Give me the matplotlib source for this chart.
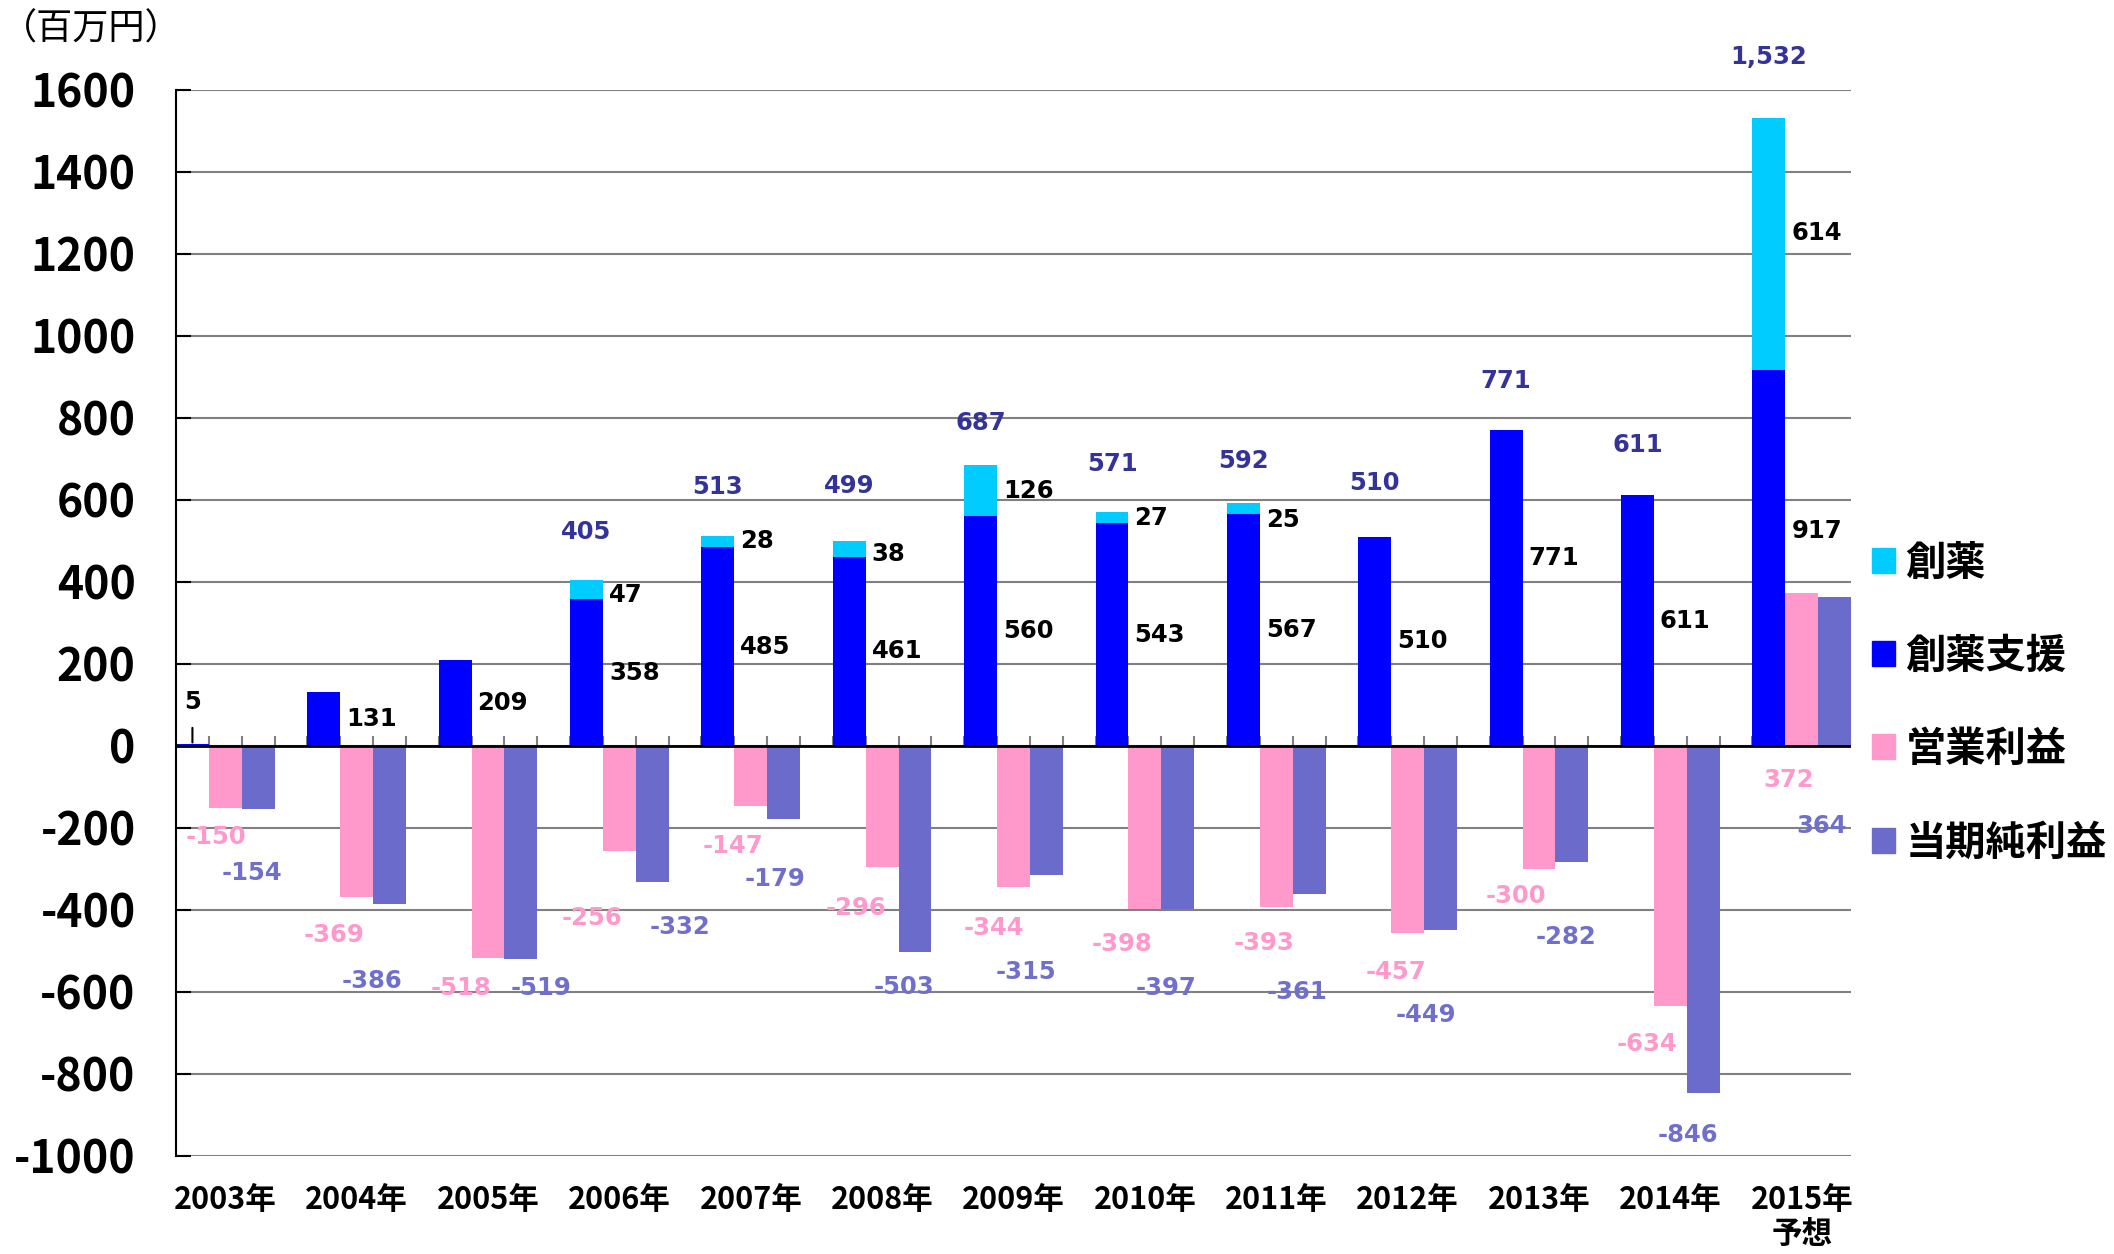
"""
makes the bar chart of sales (創薬 / 創薬支援) and profit per year
and saves it as out.png
"""
import numpy as np
import matplotlib.pyplot as plt
from matplotlib.patches import Patch

# data, in millions of yen
years = ['2003年', '2004年', '2005年', '2006年', '2007年', '2008年', '2009年',
         '2010年', '2011年', '2012年', '2013年', '2014年', '2015年\n予想']
drug_support = [5, 131, 209, 358, 485, 461, 560, 543, 567, 510, 771, 611, 917]
drug_discovery = [0, 0, 0, 47, 28, 38, 126, 27, 25, 0, 0, 0, 614]
# totals as printed above the bars (rounded separately in the source)
totals = [5, 131, 209, 405, 513, 499, 687, 571, 592, 510, 771, 611, 1532]
operating_profit = [-150, -369, -518, -256, -147, -296, -344, -398, -393, -457, -300, -634, 372]
net_profit = [-154, -386, -519, -332, -179, -503, -315, -397, -361, -449, -282, -846, 364]
show_total = [False, False, False, True, True, True, True, True, True, True, True, True, True]

# label placement (pixels), the labels in the original were moved by hand
total_dy = [0, 0, 0, 48, 49, 55, 42, 48, 42, 54, 49, 50, 61]
support_dy = [0, 0, 0, 0, 0, 0, 0, 0, 0, 0, 30, 0, 27]
discovery_dy = [0, 0, 0, -5, 0, -5, 0, 0, -12, 0, 0, 0, 11]
pink_dx = [-9, -23, -27, -27, -18, -26, -20, -23, -12, -12, -23, -23, -13]
pink_dy = [29, 38, 30, 67, 40, 41, 41, 35, 36, 39, 27, 38, 34]
purple_dx = [-6, -17, 20, 28, -9, -11, -20, -12, -12, -15, -6, -15, -13]
purple_dy = [64, 77, 29, 45, 60, 35, 97, 79, 98, 85, 75, 42, 80]

BLUE = '#0000FF'
CYAN = '#00CCFF'
PINK = '#FF99CC'
PURPLE = '#6B6BCC'
TOTAL_COLOR = '#333399'
CJK = ['Noto Sans CJK JP', 'DejaVu Sans']
NUM_FONT = 'DejaVu Sans'

plt.rcParams['axes.unicode_minus'] = False


def plot_maker():
    """
    draws the bars, the labels and the legend and saves the figure
    :return: None
    """
    fig = plt.figure(figsize=(21.14, 12.54), dpi=100)
    ax = fig.add_axes([176 / 2114, 98 / 1254, 1675 / 2114, 1066 / 1254])

    # every year takes 4 slots: blue, pink, purple, empty
    n = len(years)
    base = np.arange(n) * 4
    blue_x = base
    pink_x = base + 1
    purple_x = base + 2

    # small ticks on the zero line between the slots
    ax.vlines(np.arange(0.5, 4 * n - 2, 1), 0, 24, color='#808080', lw=1.5, zorder=1)

    ax.bar(blue_x, drug_support, width=1.0, color=BLUE, zorder=2)
    ax.bar(blue_x, drug_discovery, width=1.0, bottom=drug_support, color=CYAN, zorder=2)
    ax.bar(pink_x, operating_profit, width=1.0, color=PINK, zorder=2)
    ax.bar(purple_x, net_profit, width=1.0, color=PURPLE, zorder=2)

    ax.set_xlim(-0.5, 4 * n - 1.5)
    ax.set_ylim(-1000, 1600)
    ax.set_yticks(np.arange(-1000, 1601, 200))
    ax.yaxis.grid(True, color='#808080', lw=1.5)
    ax.set_axisbelow(True)
    ax.axhline(0, color='black', lw=2, zorder=3)

    for side in ['top', 'right', 'bottom']:
        ax.spines[side].set_visible(False)
    ax.spines['left'].set_linewidth(1.5)
    ax.tick_params(axis='y', direction='in', length=11, width=1.5, pad=29)
    ax.tick_params(axis='x', length=0, pad=20)
    ax.set_xticks(pink_x)
    ax.set_xticklabels(years, family=CJK, weight='bold', fontsize=22, linespacing=1.1)
    for lab in ax.get_yticklabels():
        lab.set_family(CJK)
        lab.set_weight('bold')
        lab.set_fontsize(32)

    label_kw = dict(textcoords='offset pixels', fontsize=17.5, weight='bold',
                    family=NUM_FONT, va='center')

    for i in range(n):
        blue = drug_support[i]
        cyan = drug_discovery[i]
        total = blue + cyan

        # value of 創薬支援, to the right of the bar
        if blue < 50:
            ax.annotate(str(blue), xy=(blue_x[i], blue), xytext=(0, 42), ha='center',
                        color='black',
                        arrowprops=dict(arrowstyle='-', color='black', lw=1.5,
                                        shrinkA=8, shrinkB=1),
                        **label_kw)
        else:
            ax.annotate(str(blue), xy=(blue_x[i] + 0.5, blue / 2),
                        xytext=(6, support_dy[i]), ha='left', color='black', **label_kw)

        if cyan > 0:
            ax.annotate(str(cyan), xy=(blue_x[i] + 0.5, blue + cyan / 2),
                        xytext=(6, discovery_dy[i]), ha='left', color='black', **label_kw)

        if show_total[i]:
            ax.annotate(f'{totals[i]:,}', xy=(blue_x[i], total), xytext=(0, total_dy[i]),
                        ha='center', color=TOTAL_COLOR, **label_kw)

        op = operating_profit[i]
        ax.annotate(str(op), xy=(pink_x[i], min(op, 0)), xytext=(pink_dx[i], -pink_dy[i]),
                    ha='center', color=PINK, **label_kw)
        net = net_profit[i]
        ax.annotate(str(net), xy=(purple_x[i], min(net, 0)),
                    xytext=(purple_dx[i], -purple_dy[i]),
                    ha='center', color='#7070CC', **label_kw)

    fig.text(91 / 2114, 1 - 30 / 1254, '（百万円）', family=CJK, fontsize=26,
             ha='center', va='center')

    handles = [Patch(color=CYAN), Patch(color=BLUE), Patch(color=PINK), Patch(color=PURPLE)]
    names = ['創薬', '創薬支援', '営業利益', '当期純利益']
    fig.legend(handles, names, loc='center left',
               bbox_to_anchor=(1872 / 2114, 1 - 703 / 1254),
               frameon=False, prop={'family': CJK, 'weight': 'bold', 'size': 29},
               handlelength=0.58, handleheight=0.58, handletextpad=0.25,
               labelspacing=1.3, borderpad=0, borderaxespad=0)

    fig.savefig('out.png', dpi=100)


def main():
    plot_maker()


if __name__ == '__main__':
    main()
